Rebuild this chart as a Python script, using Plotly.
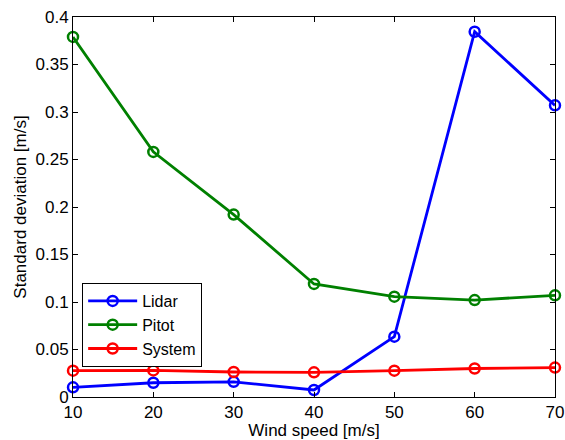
import plotly.graph_objects as go

wind_speed = [10, 20, 30, 40, 50, 60, 70]
lidar = [0.0102, 0.015, 0.016, 0.0074, 0.0635, 0.3845, 0.307]
pitot = [0.379, 0.258, 0.192, 0.119, 0.1056, 0.102, 0.107]
system = [0.0277, 0.028, 0.0263, 0.026, 0.0277, 0.030, 0.031]

series = [("Lidar", lidar, "#0000ff"), ("Pitot", pitot, "#008000"), ("System", system, "#ff0000")]

fig = go.Figure()
for name, vals, col in series:
    fig.add_trace(go.Scatter(
        x=wind_speed, y=vals, name=name, mode="lines+markers",
        line=dict(color=col, width=2.8),
        marker=dict(symbol="circle-open", size=10, color=col, line=dict(width=2.5, color=col)),
        cliponaxis=False,
    ))

font = dict(family="Liberation Sans, Arial, sans-serif", size=17, color="black")
fig.update_layout(
    width=565, height=440,
    margin=dict(l=73, r=10, t=17, b=43),
    paper_bgcolor="white", plot_bgcolor="white",
    font=font,
    showlegend=True,
    legend=dict(x=0.019, y=0.30, xanchor="left", yanchor="top",
                bordercolor="black", borderwidth=1, bgcolor="white",
                font=dict(size=16), tracegroupgap=0, itemwidth=49),
    xaxis=dict(range=[10, 70], tickvals=[10, 20, 30, 40, 50, 60, 70],
               ticks="inside", ticklen=5, tickcolor="black", mirror="ticks",
               showline=True, linecolor="black", linewidth=1, showgrid=False, zeroline=False,
               automargin=False,
               title=dict(text="Wind speed [m/s]", font=dict(size=17), standoff=2),
               tickfont=dict(size=17)),
    yaxis=dict(range=[0, 0.4], tickvals=[0, 0.05, 0.1, 0.15, 0.2, 0.25, 0.3, 0.35, 0.4],
               ticktext=["0", "0.05", "0.1", "0.15", "0.2", "0.25", "0.3", "0.35", "0.4"],
               ticks="inside", ticklen=5, tickcolor="black", mirror="ticks",
               showline=True, linecolor="black", linewidth=1, showgrid=False, zeroline=False,
               automargin=False,
               title=dict(text="Standard deviation [m/s]", font=dict(size=17), standoff=4),
               tickfont=dict(size=17)),
)
fig.write_html("out.html")
